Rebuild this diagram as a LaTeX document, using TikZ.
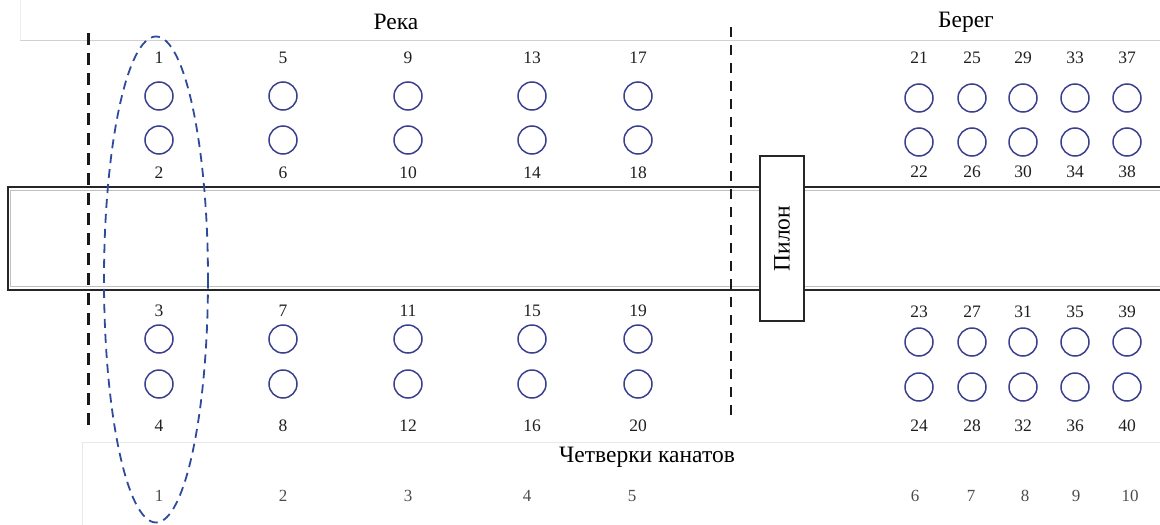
\documentclass[tikz,border=0pt]{standalone}
\usepackage{fontspec}
\setmainfont{Liberation Serif}
\begin{document}
\begin{tikzpicture}[x=1pt,y=-1pt,
  rope/.style={circle,draw=ropeblue,line width=1.5pt,minimum size=28pt,inner sep=0pt},
  num/.style={font=\fontsize{17.5}{17.5}\selectfont,text=black!88,inner sep=0pt},
  quadnum/.style={font=\fontsize{17}{17}\selectfont,text=black!70,inner sep=0pt},
  title/.style={font=\fontsize{23.5}{23.5}\selectfont,inner sep=0pt},
  deck/.style={line width=2.4pt,black!85},
  deckshade/.style={line width=1pt,black!25},
  zoneline/.style={black!90,dash pattern=on 12pt off 8pt},
  frameline/.style={black!18,line width=0.8pt},
]
\definecolor{ropeblue}{HTML}{3A3F8E}
\definecolor{groupblue}{HTML}{2E4A9A}
\useasboundingbox (0,0) rectangle (1160,525);

% faint frame lines of the header and of the footer table
\draw[black!7,line width=0.8pt] (20,0) -- (20,40);
\draw[frameline] (20,40) -- (1160,40);
\draw[black!9,line width=0.8pt] (82,525) -- (82,442) -- (1160,442);

% headings
\node[title] (reka) at (396,22) {Река};
\node[title] (bereg) at (966,22) {Берег};
\node[title] (quads) at (647,457) {Четверки канатов};

% bridge deck
\draw[deckshade] (1160,190.5) -- (10.5,190.5) -- (10.5,286.5) -- (1160,286.5);
\draw[deck] (1160,187) -- (8,187) -- (8,290) -- (1160,290);

% zone boundaries
\draw[zoneline,line width=3pt] (88,33) -- (88,428);
\draw[zoneline,line width=2.2pt,dash pattern=on 10pt off 8pt] (731,27) -- (731,422);

% pylon
\node[draw=black!85,line width=2.4pt,fill=white,minimum width=44pt,minimum height=165pt,inner sep=0pt]
  (pylon) at (782,238.5) {};
\node[rotate=90,title] (pylonlabel) at (pylon.center) {Пилон};

% river cable quads: columns 1..5
\foreach \x [count=\i] in {159,283,408,532,638} {
  \pgfmathtruncatemacro{\a}{4*\i-3}
  \pgfmathtruncatemacro{\b}{4*\i-2}
  \pgfmathtruncatemacro{\c}{4*\i-1}
  \pgfmathtruncatemacro{\d}{4*\i}
  \node[num] (l\a) at (\x,58) {\a};
  \node[rope] (r\a) at (\x,96) {};
  \node[rope] (r\b) at (\x,140) {};
  \node[num] (l\b) at (\x,173) {\b};
  \node[num] (l\c) at (\x,311) {\c};
  \node[rope] (r\c) at (\x,339) {};
  \node[rope] (r\d) at (\x,384) {};
  \node[num] (l\d) at (\x,426) {\d};
}
% shore cable quads: columns 6..10
\foreach \x [count=\j] in {919,972,1023,1075,1127} {
  \pgfmathtruncatemacro{\i}{\j+5}
  \pgfmathtruncatemacro{\a}{4*\i-3}
  \pgfmathtruncatemacro{\b}{4*\i-2}
  \pgfmathtruncatemacro{\c}{4*\i-1}
  \pgfmathtruncatemacro{\d}{4*\i}
  \node[num] (l\a) at (\x,58) {\a};
  \node[rope] (r\a) at (\x,98) {};
  \node[rope] (r\b) at (\x,142) {};
  \node[num] (l\b) at (\x,172) {\b};
  \node[num] (l\c) at (\x,312) {\c};
  \node[rope] (r\c) at (\x,342) {};
  \node[rope] (r\d) at (\x,387) {};
  \node[num] (l\d) at (\x,426) {\d};
}

% quad numbers
\foreach \x [count=\k] in {159,283,408,527,632,915,971,1025,1076,1130} {
  \node[quadnum] (q\k) at (\x,496) {\k};
}

% first quad highlighted
\draw[groupblue,line width=1.8pt,dash pattern=on 9pt off 6pt] (156,279.5) ellipse [x radius=52, y radius=243];
\end{tikzpicture}
\end{document}
